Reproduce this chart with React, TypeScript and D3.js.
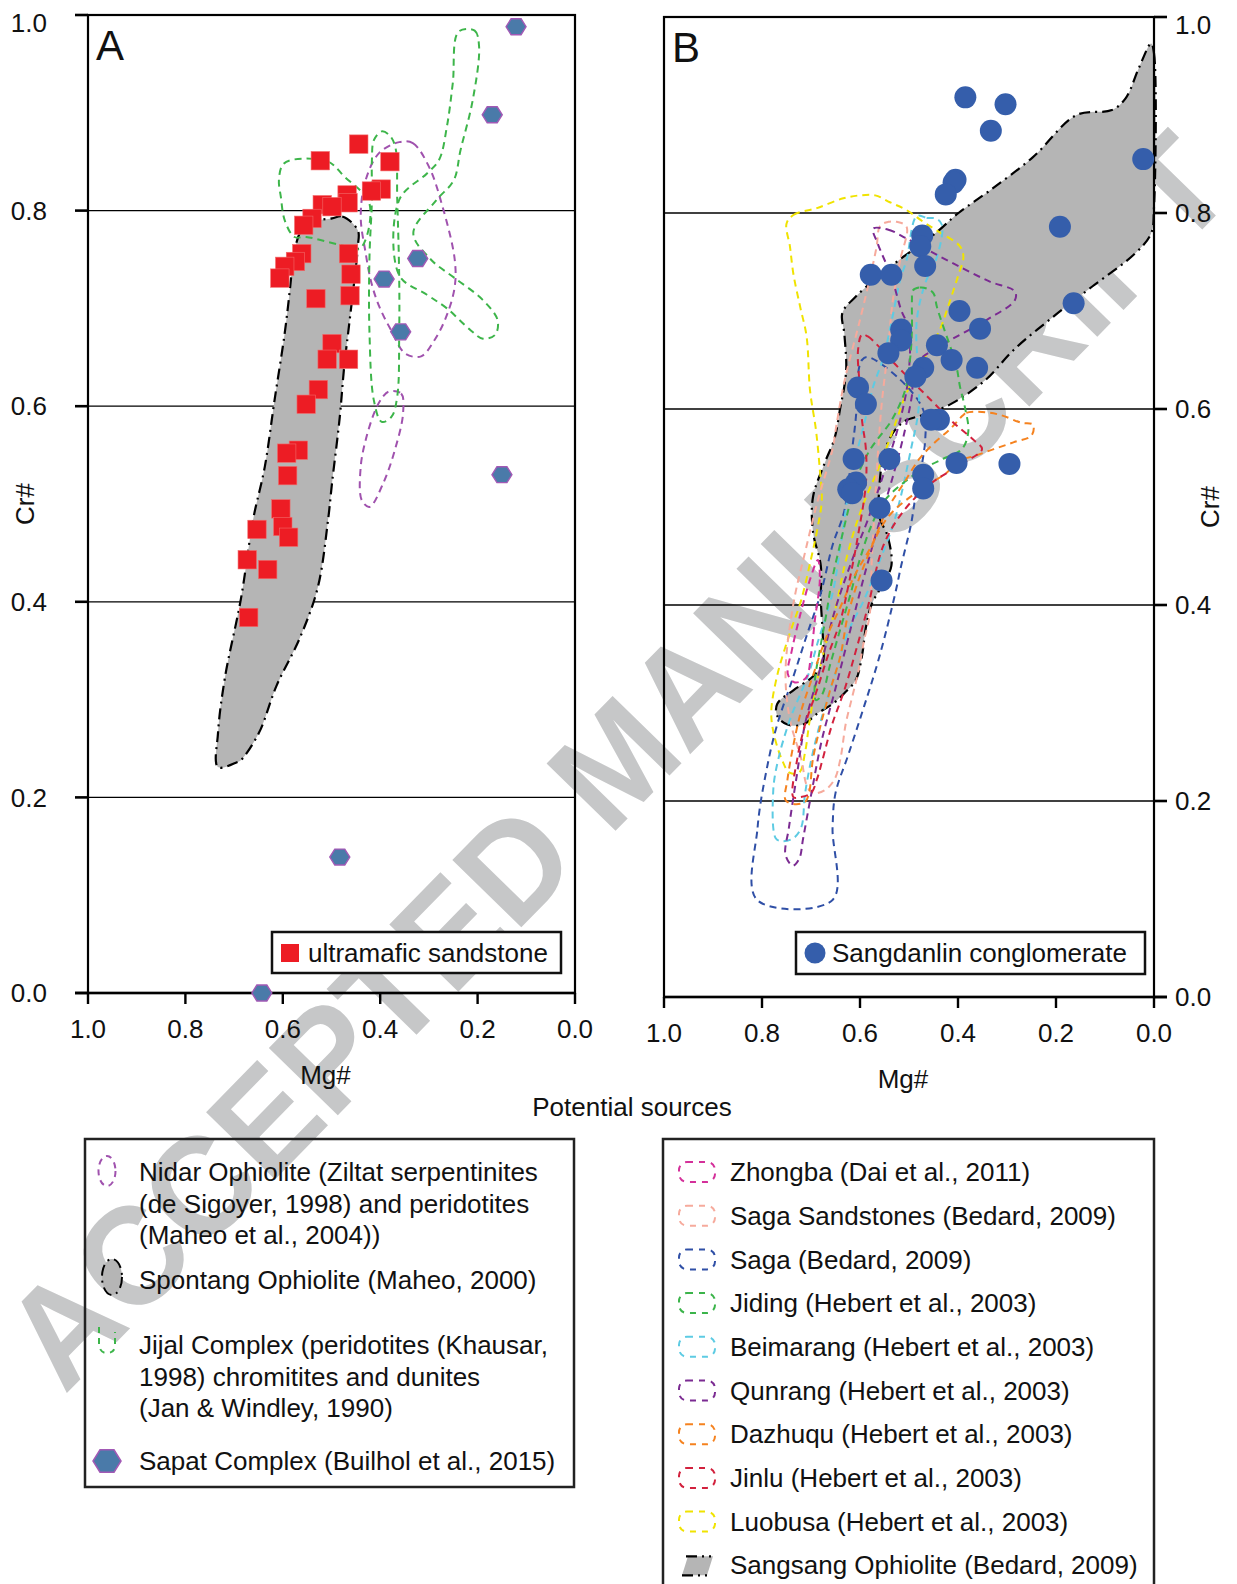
import React from 'react';
import * as d3 from 'd3';

type Pt = [number, number];

// ---- data: [Mg#, Cr#] ----
const sandstone: Pt[] = [
  [0.444, 0.868], [0.523, 0.851], [0.380, 0.850], [0.398, 0.822], [0.418, 0.820],
  [0.468, 0.816], [0.466, 0.808], [0.519, 0.806], [0.499, 0.804], [0.540, 0.792],
  [0.557, 0.785], [0.561, 0.756], [0.574, 0.748], [0.596, 0.743], [0.606, 0.731],
  [0.465, 0.756], [0.460, 0.735], [0.462, 0.713], [0.532, 0.710], [0.499, 0.664],
  [0.509, 0.648], [0.465, 0.648], [0.527, 0.617], [0.552, 0.602], [0.568, 0.555],
  [0.592, 0.552], [0.590, 0.529], [0.604, 0.495], [0.600, 0.477], [0.588, 0.466],
  [0.653, 0.474], [0.673, 0.443], [0.631, 0.433], [0.670, 0.384],
];

const sapat: Pt[] = [
  [0.121, 0.988], [0.170, 0.898], [0.323, 0.751], [0.392, 0.730],
  [0.358, 0.676], [0.150, 0.530], [0.483, 0.139], [0.643, 0.0],
];

const conglomerate: Pt[] = [
  [0.385, 0.918], [0.303, 0.911], [0.333, 0.884], [0.022, 0.855], [0.405, 0.834],
  [0.409, 0.831], [0.425, 0.819], [0.192, 0.786], [0.473, 0.777], [0.477, 0.766],
  [0.467, 0.746], [0.578, 0.737], [0.536, 0.737], [0.164, 0.708], [0.397, 0.700],
  [0.355, 0.682], [0.516, 0.681], [0.516, 0.670], [0.443, 0.665], [0.542, 0.657],
  [0.413, 0.650], [0.361, 0.642], [0.471, 0.642], [0.487, 0.633], [0.604, 0.622],
  [0.588, 0.605], [0.439, 0.589], [0.455, 0.589], [0.403, 0.545], [0.295, 0.544],
  [0.613, 0.549], [0.540, 0.549], [0.471, 0.533], [0.471, 0.519], [0.608, 0.525],
  [0.624, 0.518], [0.616, 0.514], [0.560, 0.499], [0.556, 0.425],
];

// ---- source fields, panel A ----
const spontang: Pt[] = [
  [0.499, 0.792], [0.478, 0.794], [0.446, 0.780], [0.446, 0.763], [0.462, 0.691],
  [0.474, 0.640], [0.483, 0.589], [0.499, 0.521], [0.507, 0.484], [0.528, 0.415],
  [0.565, 0.363], [0.613, 0.314], [0.649, 0.266], [0.686, 0.238], [0.694, 0.236],
  [0.733, 0.231], [0.733, 0.266], [0.719, 0.322], [0.686, 0.403], [0.661, 0.484],
  [0.637, 0.538], [0.617, 0.606], [0.596, 0.675], [0.584, 0.726], [0.580, 0.746],
  [0.565, 0.777], [0.544, 0.788],
];

const nidarUpper: Pt[] = [
  [0.361, 0.870], [0.333, 0.869], [0.300, 0.845], [0.272, 0.804], [0.247, 0.750],
  [0.247, 0.722], [0.264, 0.692], [0.288, 0.668], [0.316, 0.651], [0.349, 0.654],
  [0.378, 0.678], [0.402, 0.702], [0.418, 0.726], [0.430, 0.757], [0.440, 0.794],
  [0.430, 0.831], [0.402, 0.859],
];

const nidarLower: Pt[] = [
  [0.382, 0.615], [0.357, 0.613], [0.353, 0.593], [0.370, 0.555], [0.394, 0.521],
  [0.422, 0.497], [0.438, 0.504], [0.440, 0.538], [0.430, 0.565], [0.410, 0.596],
  [0.394, 0.610],
];

const jijalLoop: Pt[] = [
  [0.580, 0.852], [0.507, 0.850], [0.474, 0.835], [0.422, 0.807], [0.442, 0.761],
  [0.483, 0.765], [0.552, 0.773], [0.576, 0.773], [0.596, 0.790], [0.604, 0.814],
  [0.608, 0.831], [0.600, 0.847],
];

const jijalBand: Pt[] = [
  [0.413, 0.872], [0.397, 0.881], [0.381, 0.877], [0.369, 0.865], [0.365, 0.811],
  [0.361, 0.732], [0.361, 0.675], [0.365, 0.610], [0.377, 0.589], [0.397, 0.584],
  [0.413, 0.606], [0.422, 0.675], [0.422, 0.753], [0.417, 0.811], [0.417, 0.852],
];

const jijalArm: Pt[] = [
  [0.239, 0.983], [0.206, 0.984], [0.197, 0.968], [0.210, 0.913], [0.235, 0.862],
  [0.249, 0.831], [0.284, 0.811], [0.332, 0.777], [0.296, 0.750], [0.247, 0.731],
  [0.190, 0.709], [0.159, 0.688], [0.164, 0.673], [0.189, 0.669], [0.215, 0.678],
  [0.263, 0.700], [0.304, 0.714], [0.361, 0.734], [0.361, 0.811], [0.304, 0.838],
  [0.279, 0.852], [0.263, 0.886], [0.251, 0.930],
];

// ---- source fields, panel B ----
const sangsang: Pt[] = [
  [0.006, 0.973], [0.0, 0.963], [0.0, 0.806], [0.006, 0.779], [0.038, 0.759],
  [0.126, 0.725], [0.206, 0.694], [0.287, 0.660], [0.343, 0.630], [0.415, 0.605],
  [0.471, 0.594], [0.511, 0.587], [0.536, 0.573], [0.552, 0.552], [0.560, 0.524],
  [0.560, 0.489], [0.544, 0.471], [0.536, 0.440], [0.556, 0.419], [0.576, 0.401],
  [0.588, 0.377], [0.596, 0.348], [0.608, 0.324], [0.632, 0.310], [0.656, 0.299],
  [0.688, 0.289], [0.716, 0.278], [0.748, 0.278], [0.769, 0.287], [0.769, 0.299],
  [0.736, 0.313], [0.696, 0.327], [0.676, 0.341], [0.676, 0.370], [0.680, 0.405],
  [0.680, 0.440], [0.696, 0.475], [0.696, 0.510], [0.672, 0.545], [0.652, 0.570],
  [0.640, 0.602], [0.632, 0.623], [0.628, 0.643], [0.632, 0.677], [0.636, 0.698],
  [0.608, 0.715], [0.528, 0.749], [0.447, 0.779], [0.399, 0.800], [0.335, 0.823],
  [0.247, 0.857], [0.158, 0.900], [0.086, 0.905], [0.058, 0.917], [0.030, 0.949],
];

const saga: Pt[] = [
  [0.810, 0.099], [0.809, 0.173], [0.789, 0.236], [0.769, 0.278], [0.736, 0.327],
  [0.708, 0.370], [0.680, 0.412], [0.656, 0.461], [0.632, 0.496], [0.616, 0.559],
  [0.608, 0.594], [0.604, 0.636], [0.596, 0.650], [0.584, 0.653], [0.518, 0.630],
  [0.471, 0.599], [0.467, 0.568], [0.488, 0.507], [0.496, 0.482], [0.516, 0.440],
  [0.528, 0.412], [0.560, 0.348], [0.592, 0.296], [0.624, 0.247], [0.650, 0.208],
  [0.656, 0.173], [0.656, 0.099],
];

const qunrang: Pt[] = [
  [0.573, 0.784], [0.542, 0.783], [0.505, 0.774], [0.457, 0.761], [0.396, 0.745],
  [0.335, 0.730], [0.284, 0.720], [0.284, 0.711], [0.341, 0.691], [0.437, 0.664],
  [0.488, 0.645], [0.494, 0.614], [0.508, 0.579], [0.529, 0.538], [0.559, 0.487],
  [0.588, 0.436], [0.620, 0.374], [0.651, 0.313], [0.678, 0.262], [0.698, 0.211],
  [0.716, 0.162], [0.724, 0.141], [0.737, 0.134], [0.752, 0.145], [0.745, 0.173],
  [0.729, 0.226], [0.712, 0.279], [0.682, 0.334], [0.651, 0.395], [0.616, 0.446],
  [0.584, 0.487], [0.549, 0.538], [0.518, 0.589], [0.502, 0.630], [0.500, 0.681],
  [0.516, 0.701], [0.536, 0.735], [0.564, 0.769],
];

const luobusa: Pt[] = [
  [0.750, 0.789], [0.736, 0.798], [0.688, 0.805], [0.634, 0.815], [0.600, 0.818],
  [0.569, 0.818], [0.539, 0.811], [0.505, 0.803], [0.471, 0.791], [0.443, 0.782],
  [0.396, 0.766], [0.389, 0.755], [0.399, 0.737], [0.416, 0.711], [0.437, 0.681],
  [0.463, 0.657], [0.496, 0.626], [0.511, 0.609], [0.528, 0.585], [0.560, 0.542],
  [0.586, 0.512], [0.608, 0.482], [0.631, 0.441], [0.648, 0.401], [0.672, 0.356],
  [0.692, 0.313], [0.704, 0.278], [0.712, 0.250], [0.724, 0.229], [0.744, 0.229],
  [0.760, 0.243], [0.777, 0.271], [0.781, 0.292], [0.769, 0.328], [0.744, 0.370],
  [0.720, 0.405], [0.700, 0.447], [0.688, 0.475], [0.678, 0.507], [0.682, 0.538],
  [0.690, 0.579], [0.702, 0.619], [0.709, 0.674], [0.722, 0.704], [0.736, 0.738],
  [0.743, 0.766],
];

const beimarang: Pt[] = [
  [0.484, 0.797], [0.464, 0.795], [0.443, 0.794], [0.433, 0.788], [0.433, 0.776],
  [0.450, 0.745], [0.464, 0.732], [0.484, 0.691], [0.480, 0.603], [0.496, 0.559],
  [0.528, 0.489], [0.559, 0.446], [0.592, 0.405], [0.624, 0.373], [0.648, 0.334],
  [0.672, 0.296], [0.696, 0.250], [0.712, 0.208], [0.720, 0.173], [0.736, 0.162],
  [0.760, 0.159], [0.772, 0.162], [0.777, 0.211], [0.767, 0.242], [0.743, 0.283],
  [0.704, 0.331], [0.688, 0.359], [0.656, 0.412], [0.641, 0.456], [0.616, 0.538],
  [0.600, 0.568], [0.586, 0.596], [0.573, 0.623], [0.552, 0.653], [0.532, 0.698],
  [0.518, 0.732], [0.505, 0.752],
];

const sagaSandstones: Pt[] = [
  [0.505, 0.786], [0.518, 0.752], [0.533, 0.711], [0.543, 0.660], [0.555, 0.609],
  [0.563, 0.558], [0.569, 0.507], [0.576, 0.446], [0.580, 0.391], [0.592, 0.363],
  [0.604, 0.331], [0.616, 0.306], [0.629, 0.279], [0.640, 0.243], [0.652, 0.222],
  [0.672, 0.211], [0.696, 0.208], [0.708, 0.215], [0.720, 0.243], [0.743, 0.283],
  [0.752, 0.331], [0.736, 0.401], [0.712, 0.454], [0.686, 0.507], [0.656, 0.559],
  [0.648, 0.584], [0.631, 0.630], [0.600, 0.691], [0.576, 0.742], [0.566, 0.766],
  [0.559, 0.787], [0.542, 0.791], [0.525, 0.791],
];

const jiding: Pt[] = [
  [0.492, 0.721], [0.478, 0.724], [0.464, 0.723], [0.450, 0.718], [0.443, 0.704],
  [0.430, 0.684], [0.416, 0.664], [0.403, 0.643], [0.396, 0.623], [0.386, 0.602],
  [0.379, 0.577], [0.392, 0.559], [0.427, 0.550], [0.467, 0.540], [0.508, 0.526],
  [0.549, 0.507], [0.576, 0.482], [0.600, 0.447], [0.620, 0.410], [0.641, 0.374],
  [0.661, 0.339], [0.678, 0.308], [0.690, 0.303], [0.692, 0.323], [0.682, 0.354],
  [0.669, 0.390], [0.657, 0.426], [0.641, 0.461], [0.624, 0.497], [0.608, 0.528],
  [0.580, 0.558], [0.535, 0.589], [0.508, 0.619], [0.498, 0.650], [0.494, 0.681],
  [0.494, 0.711],
];

const dazhuqu: Pt[] = [
  [0.391, 0.593], [0.383, 0.596], [0.351, 0.597], [0.314, 0.594], [0.271, 0.586],
  [0.247, 0.584], [0.250, 0.573], [0.287, 0.566], [0.327, 0.559], [0.367, 0.552],
  [0.399, 0.547], [0.423, 0.535], [0.479, 0.517], [0.544, 0.489], [0.592, 0.440],
  [0.624, 0.391], [0.640, 0.348], [0.661, 0.313], [0.680, 0.278], [0.696, 0.243],
  [0.704, 0.208], [0.712, 0.199], [0.736, 0.197], [0.752, 0.201], [0.748, 0.222],
  [0.736, 0.257], [0.720, 0.292], [0.696, 0.328], [0.672, 0.363], [0.640, 0.398],
  [0.608, 0.433], [0.576, 0.461], [0.545, 0.497], [0.511, 0.524], [0.479, 0.549],
  [0.447, 0.566], [0.415, 0.580],
];

const jinlu: Pt[] = [
  [0.596, 0.676], [0.584, 0.674], [0.568, 0.667], [0.523, 0.643], [0.455, 0.609],
  [0.407, 0.585], [0.367, 0.568], [0.351, 0.559], [0.396, 0.543], [0.455, 0.524],
  [0.511, 0.496], [0.552, 0.461], [0.584, 0.398], [0.608, 0.354], [0.632, 0.313],
  [0.657, 0.278], [0.676, 0.243], [0.688, 0.222], [0.700, 0.208], [0.722, 0.204],
  [0.736, 0.204], [0.728, 0.243], [0.712, 0.278], [0.688, 0.313], [0.665, 0.349],
  [0.640, 0.384], [0.624, 0.419], [0.604, 0.471], [0.588, 0.524], [0.588, 0.559],
  [0.596, 0.589], [0.601, 0.626], [0.604, 0.660],
];

const zhongba: Pt[] = [
  [0.686, 0.446], [0.682, 0.426], [0.692, 0.385], [0.700, 0.349], [0.710, 0.326],
  [0.733, 0.321], [0.747, 0.329], [0.739, 0.354], [0.722, 0.390], [0.702, 0.426],
];

const yTicks = [0, 0.2, 0.4, 0.6, 0.8, 1.0];
const xTicks = [1.0, 0.8, 0.6, 0.4, 0.2, 0.0];

const legendLeft = [
  { lines: ['Nidar Ophiolite (Ziltat serpentinites', '(de Sigoyer, 1998) and peridotites', '(Maheo et al., 2004))'] },
  { lines: ['Spontang Ophiolite (Maheo, 2000)'] },
  { lines: ['Jijal Complex (peridotites (Khausar,', '1998) chromitites and dunites', '(Jan & Windley, 1990)'] },
  { lines: ['Sapat Complex (Builhol et al., 2015)'] },
];
const legendLeftY = [1172, 1280, 1345, 1461];

const legendRight = [
  { label: 'Zhongba (Dai et al., 2011)', color: '#d4309a' },
  { label: 'Saga Sandstones (Bedard, 2009)', color: '#f6aa9c' },
  { label: 'Saga (Bedard, 2009)', color: '#2f4fa6' },
  { label: 'Jiding (Hebert et al., 2003)', color: '#3bb44a' },
  { label: 'Beimarang (Hebert et al., 2003)', color: '#5dcbe3' },
  { label: 'Qunrang (Hebert et al., 2003)', color: '#7b2b92' },
  { label: 'Dazhuqu (Hebert et al., 2003)', color: '#f5821f' },
  { label: 'Jinlu (Hebert et al., 2003)', color: '#d2213d' },
  { label: 'Luobusa (Hebert et al., 2003)', color: '#f0e300' },
  { label: 'Sangsang Ophiolite (Bedard, 2009)', color: 'gray' },
];

const FONT = "'Liberation Sans', Arial, Helvetica, sans-serif";
const RED = '#ed1c24';
const BLUE = '#355eab';
const HEX_FILL = '#4a7aa9';
const HEX_EDGE = '#a259b5';
const FIELD_GRAY = '#b5b5b5';
const NIDAR = '#a052ae';
const JIJAL = '#3db54a';
const DASH = '7 5';
const DASHDOT = '11 5 2 5';

const xA = d3.scaleLinear().domain([1, 0]).range([88, 575]);
const yA = d3.scaleLinear().domain([0, 1]).range([993, 15]);
const xB = d3.scaleLinear().domain([1, 0]).range([664, 1154]);
const yB = d3.scaleLinear().domain([0, 1]).range([997, 17]);
const fmt = d3.format('.1f');

const hexPoints = (cx: number, cy: number, r: number) =>
  d3.range(6).map(i => {
    const a = (Math.PI / 3) * i;
    return `${cx + r * Math.cos(a)},${cy + r * Math.sin(a) * 0.92}`;
  }).join(' ');

const makeLine = (x: d3.ScaleLinear<number, number>, y: d3.ScaleLinear<number, number>) =>
  d3.line<Pt>().x(d => x(d[0])).y(d => y(d[1])).curve(d3.curveCatmullRomClosed.alpha(0.5));

const lineA = makeLine(xA, yA);
const lineB = makeLine(xB, yB);

const Field = ({ d, color, dash = DASH, fill = 'none', w = 2 }: any) => (
  <path d={d} fill={fill} stroke={color} strokeWidth={w} strokeDasharray={dash} strokeLinejoin="round" />
);

const Grid = ({ x, y }: any) => {
  const [x0, x1] = [Math.min(...x.range()), Math.max(...x.range())];
  return (
    <g>
      {yTicks.slice(1, 5).map(t => (
        <line key={t} x1={x0} x2={x1} y1={y(t)} y2={y(t)} stroke="#000" strokeWidth={1.3} />
      ))}
    </g>
  );
};

const Axes = ({ x, y, side, label }: any) => {
  const [x0, x1] = [Math.min(...x.range()), Math.max(...x.range())];
  const [y1, y0] = [Math.min(...y.range()), Math.max(...y.range())];
  const axisX = side === 'left' ? x0 : x1;
  const tickEnd = side === 'left' ? x0 - 13 : x1 + 13;
  return (
    <g fontFamily={FONT} fontSize={26} fill="#111">
      <rect x={x0} y={y1} width={x1 - x0} height={y0 - y1} fill="none" stroke="#000" strokeWidth={2.2} />
      {yTicks.map(t => (
        <g key={t}>
          <line x1={axisX} x2={tickEnd} y1={y(t)} y2={y(t)} stroke="#000" strokeWidth={2.6} />
          <text
            x={side === 'left' ? 47 : x1 + 21}
            y={y(t) + (t === 1 ? 8 : 0)}
            dy="0.35em"
            textAnchor={side === 'left' ? 'end' : 'start'}
          >{fmt(t)}</text>
        </g>
      ))}
      <line x1={side === 'left' ? x0 - 13 : x0} x2={side === 'left' ? x1 : x1 + 13} y1={y0} y2={y0} stroke="#000" strokeWidth={2.6} />
      {xTicks.map(t => (
        <g key={t}>
          <line x1={x(t)} x2={x(t)} y1={y0} y2={y0 + 11} stroke="#000" strokeWidth={2.4} />
          <text x={x(t)} y={y0 + 45} textAnchor="middle">{fmt(t)}</text>
        </g>
      ))}
      <text x={(x0 + x1) / 2 - 6} y={y0 + 91} textAnchor="middle">Mg#</text>
      <text
        transform={`translate(${side === 'left' ? 25 : 1210},${(y0 + y1) / 2}) rotate(-90)`}
        textAnchor="middle" dy="0.35em"
      >Cr#</text>
      <text x={x0 + 8} y={y1 + 45} fontSize={42}>{label}</text>
    </g>
  );
};

const App = () => {
  const rowY = (i: number) => 1172 + i * 43.7;
  return (
    <svg width={1237} height={1584} style={{ position: 'absolute', left: 0, top: 0, background: '#fff' }}>
      <rect width={1237} height={1584} fill="#fff" />

      {/* watermark, bottom layer */}
      <text
        transform="translate(616,760) rotate(-45.7)"
        textAnchor="middle" dy="0.35em"
        fontFamily={FONT} fontWeight="bold" fontSize={140}
        fill="#c6c7c8"
        textLength={1680} lengthAdjust="spacingAndGlyphs"
      >ACCEPTED MANUSCRIPT</text>

      {/* grid lines */}
      <Grid x={xA} y={yA} />
      <Grid x={xB} y={yB} />

      {/* ophiolite fields */}
      <path d={lineA(spontang) || ''} fill={FIELD_GRAY} stroke="#000" strokeWidth={2.2} strokeDasharray={DASHDOT} />
      <path d={lineB(sangsang) || ''} fill={FIELD_GRAY} stroke="#000" strokeWidth={2.2} strokeDasharray={DASHDOT} />

      {/* panel A source outlines */}
      <Field d={lineA(nidarUpper)} color={NIDAR} />
      <Field d={lineA(nidarLower)} color={NIDAR} />
      <Field d={lineA(jijalLoop)} color={JIJAL} />
      <Field d={lineA(jijalBand)} color={JIJAL} />
      <Field d={lineA(jijalArm)} color={JIJAL} />

      {/* panel B source outlines */}
      <Field d={lineB(luobusa)} color={legendRight[8].color} />
      <Field d={lineB(saga)} color={legendRight[2].color} />
      <Field d={lineB(sagaSandstones)} color={legendRight[1].color} />
      <Field d={lineB(beimarang)} color={legendRight[4].color} />
      <Field d={lineB(qunrang)} color={legendRight[5].color} />
      <Field d={lineB(jiding)} color={legendRight[3].color} />
      <Field d={lineB(dazhuqu)} color={legendRight[6].color} />
      <Field d={lineB(jinlu)} color={legendRight[7].color} />
      <Field d={lineB(zhongba)} color={legendRight[0].color} />

      <Axes x={xA} y={yA} side="left" label="A" />
      <Axes x={xB} y={yB} side="right" label="B" />

      {/* markers */}
      {sapat.map((p, i) => (
        <polygon key={i} points={hexPoints(xA(p[0]), yA(p[1]), 10)} fill={HEX_FILL} stroke={HEX_EDGE} strokeWidth={1.4} />
      ))}
      {sandstone.map((p, i) => (
        <rect key={i} x={xA(p[0]) - 9.2} y={yA(p[1]) - 9.2} width={18.4} height={18.4} fill={RED} stroke="#f26a6a" strokeWidth={0.6} />
      ))}
      {conglomerate.map((p, i) => (
        <circle key={i} cx={xB(p[0])} cy={yB(p[1])} r={11} fill={BLUE} />
      ))}

      {/* in-panel legends */}
      <g fontFamily={FONT} fontSize={26} fill="#111">
        <rect x={272} y={932} width={289} height={41} fill="#fff" stroke="#111" strokeWidth={2.5} />
        <rect x={281} y={944} width={18} height={18} fill={RED} />
        <text x={308} y={953} dy="0.35em">ultramafic sandstone</text>
        <rect x={796} y={932} width={349} height={42} fill="#fff" stroke="#111" strokeWidth={2.5} />
        <circle cx={815} cy={953} r={10.5} fill={BLUE} />
        <text x={832} y={953} dy="0.35em">Sangdanlin conglomerate</text>
      </g>

      <text x={632} y={1107} dy="0.35em" textAnchor="middle" fontFamily={FONT} fontSize={26} fill="#111">Potential sources</text>

      {/* bottom-left legend */}
      <g fontFamily={FONT} fontSize={26} fill="#111">
        <rect x={85} y={1139} width={489} height={348} fill="none" stroke="#222" strokeWidth={2.5} />
        {legendLeft.map((item, i) => (
          <g key={i}>
            {item.lines.map((ln, j) => (
              <text key={j} x={139} y={legendLeftY[i] + j * 31.5} dy="0.35em">{ln}</text>
            ))}
          </g>
        ))}
        <ellipse cx={107} cy={1171} rx={8.5} ry={15} fill="none" stroke={NIDAR} strokeWidth={2} strokeDasharray="6 5" />
        <ellipse cx={112} cy={1277} rx={10} ry={18} fill={FIELD_GRAY} stroke="#000" strokeWidth={2} strokeDasharray={DASHDOT} />
        <path d="M99,1327 L99,1345 Q100,1353 107,1353 Q115,1353 115,1345 L115,1332" fill="none" stroke={JIJAL} strokeWidth={2} strokeDasharray="6 5" />
        <polygon points={hexPoints(107, 1461, 14)} fill={HEX_FILL} stroke={HEX_EDGE} strokeWidth={1.5} />
      </g>

      {/* bottom-right legend */}
      <g fontFamily={FONT} fontSize={26} fill="#111">
        <rect x={663} y={1139} width={491} height={470} fill="none" stroke="#222" strokeWidth={2.5} />
        {legendRight.map((item, i) => (
          <g key={i}>
            {item.color === 'gray' ? (
              <g>
                <polygon points={`${682},${rowY(i) + 10} ${688},${rowY(i) - 9} ${713},${rowY(i) - 9} ${707},${rowY(i) + 10}`} fill={FIELD_GRAY} />
                <polyline points={`${682},${rowY(i) + 10} ${707},${rowY(i) + 10}`} stroke="#000" strokeWidth={2.2} fill="none" strokeDasharray={DASHDOT} />
                <polyline points={`${686},${rowY(i) - 9} ${711},${rowY(i) - 9}`} stroke="#000" strokeWidth={2.2} fill="none" strokeDasharray={DASHDOT} />
              </g>
            ) : (
              <rect x={679} y={rowY(i) - 10} width={36} height={20} rx={8} fill="none" stroke={item.color} strokeWidth={2} strokeDasharray="6 6" />
            )}
            <text x={730} y={rowY(i)} dy="0.35em">{item.label}</text>
          </g>
        ))}
      </g>
    </svg>
  );
};

export default App;
